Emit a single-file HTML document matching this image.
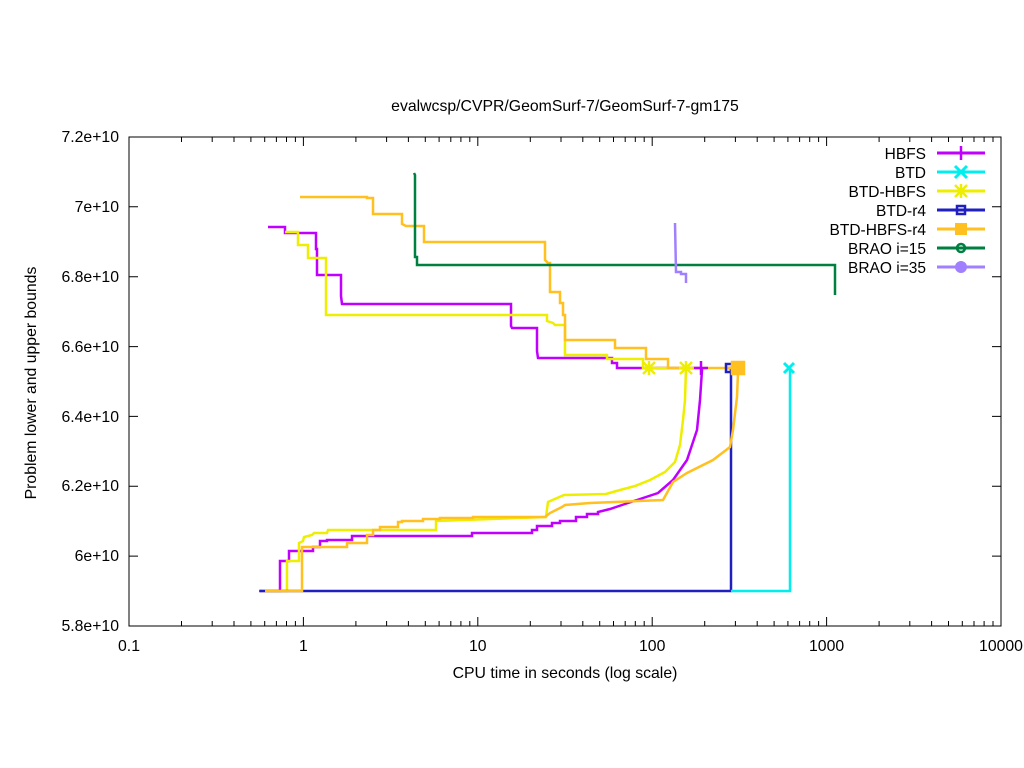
<!DOCTYPE html>
<html><head><meta charset="utf-8"><style>
body{margin:0;background:#fff;}
svg{display:block;font-family:"Liberation Sans",sans-serif;}
</style></head><body>
<svg width="1024" height="768" xmlns="http://www.w3.org/2000/svg">
<rect width="1024" height="768" fill="#fff"/>
<text x="565" y="111" font-size="15.8" text-anchor="middle">evalwcsp/CVPR/GeomSurf-7/GeomSurf-7-gm175</text>
<g stroke="#000" stroke-width="1" fill="none">
<rect x="129" y="137" width="872" height="489"/>
<path d="M129,626h9M1001,626h-9M129,556.1h9M1001,556.1h-9M129,486.3h9M1001,486.3h-9M129,416.4h9M1001,416.4h-9M129,346.6h9M1001,346.6h-9M129,276.7h9M1001,276.7h-9M129,206.8h9M1001,206.8h-9M129,137h9M1001,137h-9"/>
<path d="M303.4,626v-9M303.4,137v9M477.8,626v-9M477.8,137v9M652.2,626v-9M652.2,137v9M826.6,626v-9M826.6,137v9"/>
<path d="M181.5,626v-5M181.5,137v5M212.2,626v-5M212.2,137v5M234,626v-5M234,137v5M250.9,626v-5M250.9,137v5M264.7,626v-5M264.7,137v5M276.4,626v-5M276.4,137v5M286.5,626v-5M286.5,137v5M295.4,626v-5M295.4,137v5
M355.9,626v-5M355.9,137v5M386.6,626v-5M386.6,137v5M408.4,626v-5M408.4,137v5M425.3,626v-5M425.3,137v5M439.1,626v-5M439.1,137v5M450.8,626v-5M450.8,137v5M460.9,626v-5M460.9,137v5M469.8,626v-5M469.8,137v5
M530.3,626v-5M530.3,137v5M561,626v-5M561,137v5M582.8,626v-5M582.8,137v5M599.7,626v-5M599.7,137v5M613.5,626v-5M613.5,137v5M625.2,626v-5M625.2,137v5M635.3,626v-5M635.3,137v5M644.2,626v-5M644.2,137v5
M704.7,626v-5M704.7,137v5M735.4,626v-5M735.4,137v5M757.2,626v-5M757.2,137v5M774.1,626v-5M774.1,137v5M787.9,626v-5M787.9,137v5M799.6,626v-5M799.6,137v5M809.7,626v-5M809.7,137v5M818.6,626v-5M818.6,137v5
M879.1,626v-5M879.1,137v5M909.8,626v-5M909.8,137v5M931.6,626v-5M931.6,137v5M948.5,626v-5M948.5,137v5M962.3,626v-5M962.3,137v5M974,626v-5M974,137v5M984.1,626v-5M984.1,137v5M993,626v-5M993,137v5"/>
</g>
<g font-size="15.8" fill="#000" text-anchor="end">
<text x="119" y="631">5.8e+10</text>
<text x="119" y="561">6e+10</text>
<text x="119" y="491">6.2e+10</text>
<text x="119" y="422">6.4e+10</text>
<text x="119" y="352">6.6e+10</text>
<text x="119" y="282">6.8e+10</text>
<text x="119" y="212">7e+10</text>
<text x="119" y="142">7.2e+10</text>
</g>
<g font-size="15.8" fill="#000" text-anchor="middle">
<text x="129" y="651">0.1</text>
<text x="303.4" y="651">1</text>
<text x="477.8" y="651">10</text>
<text x="652.2" y="651">100</text>
<text x="826.6" y="651">1000</text>
<text x="1001" y="651">10000</text>
</g>
<text transform="translate(36,383) rotate(-90)" font-size="15.8" text-anchor="middle">Problem lower and upper bounds</text>
<text x="565" y="678" font-size="15.8" text-anchor="middle">CPU time in seconds (log scale)</text>
<g fill="none" stroke-width="2.5" stroke-linejoin="miter">
<polyline stroke="#c000ff" points="268,227 285,227 285,233 316,233 316,249 317,249 317,275 341,275 341,296 342,304 511,304 511,326 512,328 537,328 537,351 538,358 612,358 612,363 617,363 617,368 700,368"/>
<polyline stroke="#c000ff" points="259,591 280,591 280,561 289,561 289,551 313,551 313,547 320,547 320,541 327,541 327,540 352,540 352,536 472,536 472,533 532,533 532,530 537,530 537,526 552,526 552,523 560,523 560,521 576,521 576,517 587,517 587,514 598,514 598,512 610,509 625,504 637,500 658,493 673,480 687,460 697,430 700,400 702,370 702,368"/>
<polyline stroke="#eeee00" points="285,232 298,232 298,245 308,245 308,258 326,258 326,315 547,315 547,321 553,323 555,325 565,325 565,355 607,355 607,359 643,359 643,368 686,368"/>
<polyline stroke="#eeee00" points="262,591 287,591 287,561 299,561 299,543 303,541 304,537 312,535 314,533 327,533 328,530 436,530 436,521 546,517 548,502 564,495 606,494 620,490 635,486 650,480 665,472 675,462 680,445 683,420 685,400 686,368"/>
<polyline stroke="#2020c0" points="260,591 731,591 731,368 727,368"/>
<polyline stroke="#00eeee" points="731,591 790,591 790,368"/>
<polyline stroke="#ffc020" points="300,197 367,197 367,198 373,198 373,214 402,214 402,224 406,226 424,226 424,242 545,242 545,260 548,263 550,263 550,292 560,292 560,303 563,303 563,315 565,315 565,340 615,340 615,348 646,348 646,359 668,359 668,368 735,368"/>
<polyline stroke="#ffc020" points="265,591 302,591 302,547 347,547 347,543 367,543 367,535 373,535 373,530 380,530 380,527 398,527 398,522 402,522 402,521 423,521 423,519 440,519 440,518 473,518 473,517 545,517 550,513 562,507 565,505 590,503 663,500 673,482 687,473 713,460 730,447 733,430 737,397 738,373 738,368"/>
<polyline stroke="#008040" points="414,173 415,175 415,257 417,257 417,265 835,265 835,295"/>
<polyline stroke="#a080ff" points="675,223 676,272 681,272 681,274 686,274 686,283"/>
</g>
<g stroke-width="2.5" fill="none">
<path d="M643,362 l12,12 M655,362 l-12,12 M649,361 v14 M642,368 h14" stroke="#eeee00"/>
<path d="M680,362 l12,12 M692,362 l-12,12 M686,361 v14 M679,368 h14" stroke="#eeee00"/>
<path d="M701,361 v14 M694,368 h14" stroke="#c000ff"/>
<rect x="726" y="364" width="8" height="8" stroke="#2020c0"/>
<rect x="732" y="362" width="12" height="12" fill="#ffc020" stroke="#ffc020"/>
<path d="M784,363 l10,10 M794,363 l-10,10" stroke="#00eeee" stroke-width="3"/>
</g>
<g font-size="15.5" text-anchor="end" fill="#000">
<text x="926" y="159">HBFS</text>
<text x="926" y="178">BTD</text>
<text x="926" y="197">BTD-HBFS</text>
<text x="926" y="216">BTD-r4</text>
<text x="926" y="235">BTD-HBFS-r4</text>
<text x="926" y="254">BRAO i=15</text>
<text x="926" y="273">BRAO i=35</text>
</g>
<g fill="none" stroke-width="3">
<path d="M937,153h48" stroke="#c000ff"/><path d="M961,146v14" stroke="#c000ff" stroke-width="2.5"/>
<path d="M937,172h48" stroke="#00eeee"/><path d="M955,166l12,12M967,166l-12,12" stroke="#00eeee"/>
<path d="M937,191h48" stroke="#eeee00"/><path d="M955,185l12,12M967,185l-12,12M961,184v14" stroke="#eeee00" stroke-width="2.5"/>
<path d="M937,210h48" stroke="#2020c0"/><rect x="957" y="206" width="8" height="8" stroke="#2020c0" stroke-width="2.5"/>
<path d="M937,229h48" stroke="#ffc020"/><rect x="955" y="223" width="12" height="12" fill="#ffc020" stroke="none"/>
<path d="M937,248h48" stroke="#008040"/><circle cx="961" cy="248" r="4" stroke="#008040" stroke-width="2.5"/>
<path d="M937,267h48" stroke="#a080ff"/><circle cx="961" cy="267" r="6" fill="#a080ff" stroke="none"/>
</g>
</svg>
</body></html>
